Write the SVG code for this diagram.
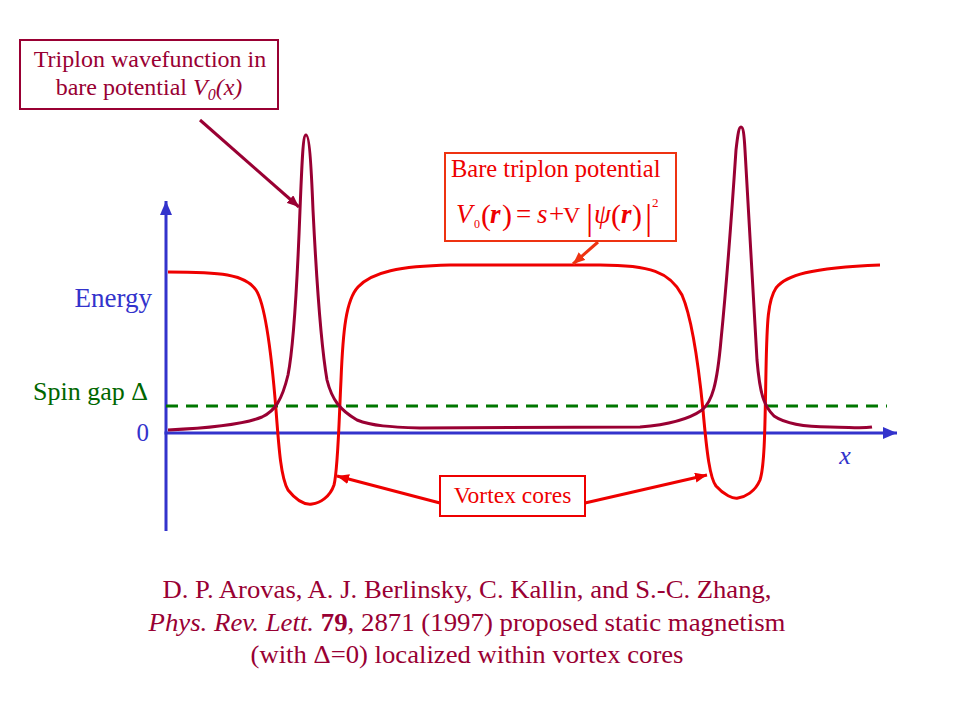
<svg xmlns="http://www.w3.org/2000/svg" width="960" height="720" viewBox="0 0 960 720">
<defs>
<style>
text{font-family:"Liberation Serif","Times New Roman",serif;}
.crim{fill:#990033;}
.red{fill:#EE0000;}
.blue{fill:#3333CC;}
.green{fill:#006600;}
.box{fill:#fff;stroke-width:2;}
.ln{fill:none;stroke-width:3;}
</style>
<marker id="ahBlue" markerUnits="userSpaceOnUse" markerWidth="14" markerHeight="12" refX="14" refY="6" orient="auto"><path d="M0,0 L14,6 L0,12 z" fill="#3333CC"/></marker>
<marker id="ahCrim" markerUnits="userSpaceOnUse" markerWidth="12" markerHeight="10" refX="12" refY="5" orient="auto"><path d="M0,0 L12,5 L0,10 z" fill="#990033"/></marker>
<marker id="ahRed" markerUnits="userSpaceOnUse" markerWidth="12" markerHeight="10" refX="12" refY="5" orient="auto"><path d="M0,0 L12,5 L0,10 z" fill="#EE0000"/></marker>
<marker id="ahOr" markerUnits="userSpaceOnUse" markerWidth="12" markerHeight="10" refX="12" refY="5" orient="auto"><path d="M0,0 L12,5 L0,10 z" fill="#EE3311"/></marker>
</defs>
<rect width="960" height="720" fill="#fff"/>

<g id="axes">
<line x1="166" y1="531" x2="166" y2="201" stroke="#3333CC" stroke-width="3" marker-end="url(#ahBlue)"/>
<line x1="164.5" y1="433" x2="897" y2="433" stroke="#3333CC" stroke-width="3" marker-end="url(#ahBlue)"/>
<line x1="166" y1="406" x2="887" y2="406" stroke="#007700" stroke-width="3" stroke-dasharray="12,8"/>
</g>

<g id="axis-labels">
<text x="152" y="307" font-size="27" text-anchor="end" class="blue">Energy</text>
<text x="148" y="400" font-size="26" text-anchor="end" class="green">Spin gap Δ</text>
<text x="149" y="441" font-size="25" text-anchor="end" class="blue">0</text>
<text x="845" y="464" font-size="26" font-style="italic" text-anchor="middle" class="blue">x</text>
</g>

<g id="potential">
<path class="ln" stroke="#EE0000" d="M168,272 C220,272 245,274 256,290 C266,305 272,360 276,410 C279,450 281,478 288,490 C296,500 305,505 312,504 C320,503 330,497 334,485 C338,470 339,420 341,380 C343,330 346,300 358,287 C372,272 400,266 450,265 L600,265 C650,265 670,272 682,295 C692,318 698,360 703,410 C707,455 710,478 716,486 C724,495 733,499 738,498 C745,497 755,492 760,480 C765,465 765,420 766,370 C767,320 768,300 776,288 C786,275 810,268 880,265"/>
</g>

<g id="wavefunction">
<path class="ln" stroke="#990033" d="M168,430 C210,428 245,424 262,417 C275,411 282,400 288,375 C294,345 297,290 300,210 C302,160 303,135 306,135 C309,135 311,160 313,210 C317,290 321,345 327,380 C332,400 340,410 357,420 C372,426 390,427 420,428 L640,427 C665,425 688,420 702,410 C712,402 717,385 721,340 C726,290 732,210 736,150 C738,133 739,127 741,127 C743,127 744,133 745,150 C749,210 753,300 757,360 C760,395 764,406 774,416 C787,425 810,427 830,427 C850,427 860,429 872,427"/>
</g>

<g id="triplon-label">
<rect class="box" x="20" y="40" width="258" height="69" stroke="#990033"/>
<text x="150" y="67" font-size="24" text-anchor="middle" class="crim">Triplon wavefunction in</text>
<text x="149" y="95" font-size="24" text-anchor="middle" class="crim">bare potential <tspan font-style="italic">V</tspan><tspan font-style="italic" font-size="16" dy="5">0</tspan><tspan font-style="italic" dy="-5">(x)</tspan></text>
</g>

<g id="bare-potential-label">
<rect class="box" x="445" y="153" width="231" height="88" stroke="#EE3311"/>
<text x="451" y="177" font-size="24.5" class="red">Bare triplon potential</text>
<g class="red" font-size="27">
<text x="456" y="223" font-style="italic">V</text>
<text x="474" y="228" font-size="12">0</text>
<text x="481" y="225" font-size="30">(</text>
<text x="490" y="223" font-style="italic" font-weight="bold">r</text>
<text x="502" y="225" font-size="30">)</text>
<text x="516" y="223">=</text>
<text x="537" y="223" font-style="italic">s</text>
<text x="549" y="223">+</text>
<text x="563" y="223" font-family="Liberation Sans, Arial, sans-serif" font-size="24" font-weight="300">V</text>
<text x="586" y="229" font-size="36">|</text>
<text x="594" y="223" font-style="italic">ψ</text>
<text x="611" y="225" font-size="30">(</text>
<text x="621" y="223" font-style="italic" font-weight="bold">r</text>
<text x="632" y="225" font-size="30">)</text>
<text x="645" y="229" font-size="36">|</text>
<text x="652" y="207" font-size="13">2</text>
</g>
</g>

<g id="vortex-label">
<rect class="box" x="440" y="476" width="145" height="40" stroke="#EE0000"/>
<text x="512.5" y="503" font-size="23.5" text-anchor="middle" class="red">Vortex cores</text>
</g>

<g id="connectors" fill="none" stroke-width="3">
<line x1="200" y1="120" x2="299" y2="207" stroke="#990033" marker-end="url(#ahCrim)"/>
<line x1="598" y1="242" x2="573" y2="264" stroke="#EE3311" marker-end="url(#ahOr)"/>
<line x1="440" y1="503" x2="337" y2="476" stroke="#EE0000" marker-end="url(#ahRed)"/>
<line x1="585" y1="503" x2="707" y2="475" stroke="#EE0000" marker-end="url(#ahRed)"/>
</g>

<g id="citation" class="crim" font-size="26" text-anchor="middle">
<text x="467" y="598" textLength="609" lengthAdjust="spacingAndGlyphs">D. P. Arovas, A. J. Berlinsky, C. Kallin, and S.-C. Zhang,</text>
<text x="467" y="631" textLength="637" lengthAdjust="spacingAndGlyphs"><tspan font-style="italic">Phys. Rev. Lett.</tspan> <tspan font-weight="bold">79</tspan>, 2871 (1997) proposed static magnetism</text>
<text x="467" y="663" textLength="433" lengthAdjust="spacingAndGlyphs">(with Δ=0) localized within vortex cores</text>
</g>
</svg>
